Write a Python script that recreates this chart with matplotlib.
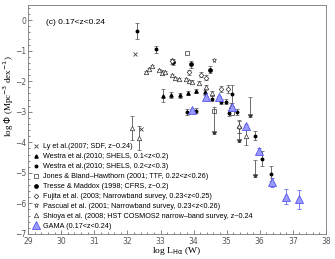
import numpy as np
import matplotlib
matplotlib.use('Agg')
import matplotlib.pyplot as plt

# ---- data (log L_Halpha [W], log Phi) ----
ly_x = [32.24, 32.42]
ly_y = [-1.10, -3.55]

w1_x = [33.07, 33.32, 33.58, 33.83, 34.08, 34.33]
w1_y = [-2.47, -2.46, -2.46, -2.38, -2.33, -2.36]
w1_e = [0.20, 0.10, 0.08, 0.07, 0.07, 0.08]

w2_x = [32.29, 32.85, 33.79, 34.06, 34.57, 34.82, 34.97, 35.17, 35.32, 35.07, 35.86, 36.08, 36.33]
w2_y = [-0.35, -0.95, -3.00, -2.96, -2.57, -2.67, -2.67, -2.41, -3.00, -3.04, -3.78, -4.54, -5.03]
w2_e = [0.25, 0.12, 0.10, 0.08, 0.08, 0.08, 0.08, 0.30, 0.10, 0.10, 0.15, 0.25, 0.25]

# upper limits (value, arrow length)
lim_x = [35.70, 35.37, 35.86, 34.62]
lim_y = [-2.63, -3.64, -4.70, -2.98]
lim_len = [0.55, 0.35, 0.45, 0.75]

jones_x = [33.81, 34.62, 35.17]
jones_y = [-1.06, -2.98, -3.04]

tresse_x = [33.38, 33.92, 34.49]
tresse_y = [-1.37, -1.45, -1.62]
tresse_e = [0.10, 0.12, 0.12]

fujita_x = [33.35, 33.86, 34.21, 34.36, 34.84, 35.04, 35.37]
fujita_y = [-1.34, -1.70, -1.78, -1.88, -2.25, -2.25, -3.50]
fujita_e = [0.08, 0.08, 0.08, 0.08, 0.10, 0.12, 0.20]

pascual_x = [33.35, 34.62]
pascual_y = [-1.30, -1.32]

shioya_x = [32.14, 32.34, 32.55, 32.65, 32.75, 32.95, 33.05, 33.15, 33.35, 33.45,
            33.55, 33.76, 33.86, 33.96, 34.16, 34.36, 34.55, 35.12, 35.37, 35.58]
shioya_y = [-3.53, -3.86, -1.69, -1.59, -1.50, -1.63, -1.72, -1.69, -1.80, -1.91,
            -1.94, -1.94, -2.00, -2.02, -2.05, -2.18, -2.40, -2.82, -3.48, -3.80]
shioya_e = [0.38, 0.40, 0.03, 0.03, 0.03, 0.03, 0.08, 0.03, 0.05, 0.05,
            0.03, 0.03, 0.05, 0.05, 0.05, 0.05, 0.08, 0.10, 0.20, 0.30]

gama_x = [33.96, 34.36, 34.77, 35.17, 35.58, 35.98, 36.38, 36.79, 37.19]
gama_y = [-2.93, -2.52, -2.52, -2.84, -3.45, -4.28, -5.31, -5.78, -5.87]
gama_e = [0.03, 0.03, 0.03, 0.04, 0.05, 0.08, 0.15, 0.25, 0.30]

labels = [
    'Ly et al.(2007; SDF, z~0.24)',
    'Westra et al.(2010; SHELS, 0.1<z<0.2)',
    'Westra et al.(2010; SHELS, 0.2<z<0.3)',
    'Jones & Bland\u2013Hawthorn (2001; TTF, 0.22<z<0.26)',
    'Tresse & Maddox (1998; CFRS, z~0.2)',
    'Fujita et al. (2003; Narrowband survey, 0.23<z<0.25)',
    'Pascual et al. (2001; Narrowband survey, 0.23<z<0.26)',
    'Shioya et al. (2008; HST COSMOS2 narrow\u2013band survey, z~0.24',
    'GAMA (0.17<z<0.24)',
]

fig = plt.figure(figsize=(3.35, 2.59), dpi=100)
ax = fig.add_axes([0.084, 0.097, 0.889, 0.884])

eb = dict(capsize=1.2, elinewidth=0.6, capthick=0.5, ecolor='#555555', linestyle='none')

h = []
h.append(ax.plot(ly_x, ly_y, 'x', color='#444444', ms=2.5, mew=0.6)[0])
h.append(ax.errorbar(w1_x, w1_y, yerr=w1_e, fmt='^', color='k', ms=2.3, **eb)[0])
h.append(ax.errorbar(w2_x, w2_y, yerr=w2_e, fmt='o', color='k', ms=1.8, **eb)[0])
h.append(ax.plot(jones_x, jones_y, 's', mfc='white', mec='#333333', ms=2.6, mew=0.5,
                 linestyle='none')[0])
h.append(ax.errorbar(tresse_x, tresse_y, yerr=tresse_e, fmt='o', color='k', ms=2.4, **eb)[0])
h.append(ax.errorbar(fujita_x, fujita_y, yerr=fujita_e, fmt='D', mfc='white', mec='#333333',
                     ms=2.4, mew=0.5, **eb)[0])
h.append(ax.plot(pascual_x, pascual_y, '*', mfc='white', mec='#333333', ms=3.6, mew=0.5,
                 linestyle='none')[0])
h.append(ax.errorbar(shioya_x, shioya_y, yerr=shioya_e, fmt='^', mfc='white', mec='#333333',
                     ms=3.2, mew=0.5, **eb)[0])

# upper limits drawn as downward arrows
lim_lo = [y - d for y, d in zip(lim_y, lim_len)]
ax.errorbar(lim_x, lim_y, yerr=[lim_len, [0.12] * len(lim_x)], fmt='none', **eb)
ax.plot(lim_x, lim_lo, marker=7, color='#333333', ms=2.5, linestyle='none')

h.append(ax.errorbar(gama_x, gama_y, yerr=gama_e, fmt='^', mfc='#9a9aff', mec='#5555ee', ms=6,
                     mew=0.6, ecolor='#6666ee', elinewidth=0.6, capsize=1.5, capthick=0.5,
                     linestyle='none')[0])

ax.set_xlim(29, 38)
ax.set_ylim(-7, 0.5)
ax.set_xticks(np.arange(29, 39, 1))
ax.set_yticks(np.arange(-7, 1, 1))
ax.set_xticks(np.arange(29, 38.01, 0.2), minor=True)
ax.set_yticks(np.arange(-7, 0.51, 0.2), minor=True)
ax.tick_params(which='both', direction='in', labelsize=5.5, labelcolor='#555555',
               color='#555555', width=0.5, top=False, right=False, pad=1.5)
ax.tick_params(which='major', length=3)
ax.tick_params(which='minor', length=1.5)
ax.tick_params(axis='x', pad=2.5)
for s in ax.spines.values():
    s.set_linewidth(0.6)
    s.set_color('#777777')

ax.set_xlabel(r'log L$_{\mathrm{H\alpha}}$ (W)', family='Liberation Serif', fontsize=6.8)
ax.set_ylabel(r'log $\Phi$ (Mpc$^{-3}$ dex$^{-1}$)', family='Liberation Serif', fontsize=6.5)
ax.xaxis.set_label_coords(0.5, -0.05)
ax.yaxis.set_label_coords(-0.042, 0.6)
ax.text(0.06, 0.94, '(c) 0.17<z<0.24', transform=ax.transAxes, fontsize=6,
        family='Liberation Sans', va='top')

ax.legend(h, labels, loc='lower left', frameon=False, handlelength=1.0,
          handletextpad=0.5, labelspacing=0.4, borderaxespad=0.15,
          prop={'family': 'Liberation Sans', 'size': 5.2})

fig.savefig('out.png', dpi=100)
